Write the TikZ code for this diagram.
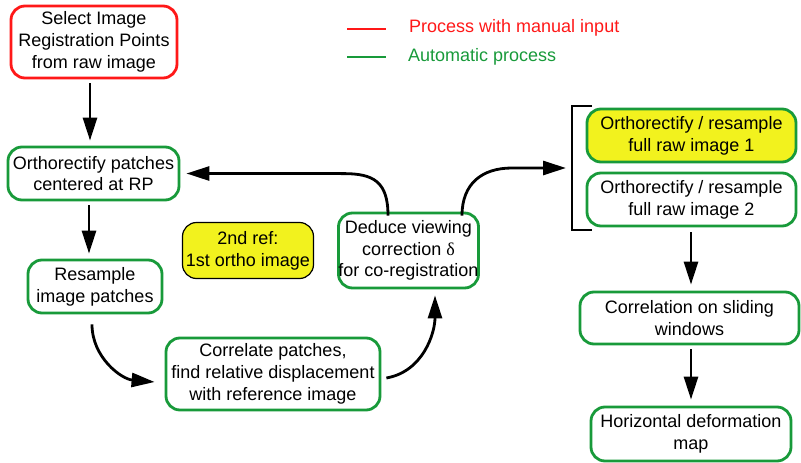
\documentclass[tikz,border=0pt]{standalone}
\usepackage{fontspec}
\setmainfont{Liberation Sans}
\newfontfamily\greekserif{Liberation Serif}
\usetikzlibrary{arrows.meta,calc}
\definecolor{manred}{RGB}{255,24,24}
\definecolor{autogreen}{RGB}{24,154,58}
\definecolor{hiyellow}{RGB}{242,242,30}
\tikzset{
  every node/.style={font=\fontsize{18}{21.8}\selectfont, align=center, inner sep=0pt},
  procbox/.style={draw=autogreen, line width=2.8pt, rounded corners=14pt, fill=white},
  manualbox/.style={procbox, draw=manred},
  notebox/.style={draw=black, line width=1.2pt, rounded corners=14pt, fill=hiyellow},
  arr/.style={-{Triangle[length=23pt,width=14pt]}, line width=2.8pt, black},
}
\begin{document}
\begin{tikzpicture}[x=1pt,y=1pt]
\useasboundingbox (0,0) rectangle (801,-463);

% process boxes
\node[manualbox, minimum width=166pt, minimum height=72pt] (s) at (94,-42)
  {Select Image\\Registration Points\\from raw image};
\node[procbox, minimum width=171pt, minimum height=53pt] (op) at (93.5,-173.5)
  {Orthorectify patches\\centered at RP};
\node[procbox, minimum width=134pt, minimum height=53pt] (rs) at (95,-286.5)
  {Resample\\image patches};
\node[notebox, minimum width=131pt, minimum height=56pt] (rf) at (248,-250.5)
  {2nd ref:\\1st ortho image};
\node[procbox, minimum width=214pt, minimum height=72pt] (cp) at (273,-374)
  {Correlate patches,\\find relative displacement\\with reference image};
\node[procbox, minimum width=135pt, minimum height=75pt] (dd) at (408.5,-250.5)
  {Deduce viewing\\correction {\greekserif δ}\\for co-registration};
\node[procbox, fill=hiyellow, minimum width=209pt, minimum height=53pt] (o1) at (691.5,-135.5)
  {Orthorectify / resample\\full raw image 1};
\node[procbox, minimum width=209pt, minimum height=53pt] (o2) at (691.5,-199.5)
  {Orthorectify / resample\\full raw image 2};
\node[procbox, minimum width=219pt, minimum height=52pt] (cw) at (689.5,-318)
  {Correlation on sliding\\windows};
\node[procbox, minimum width=200pt, minimum height=54pt] (hd) at (691,-434)
  {Horizontal deformation\\map};

% bracket grouping the two full-image steps
\coordinate (bt) at (592,-106);
\coordinate (bb) at (592,-230);
\coordinate (bx) at (572,-168);
\draw[line width=1.2pt] (bt) -- (bt -| bx) -- (bb -| bx) -- (bb);

% legend
\coordinate (lr) at (347,-29);
\coordinate (lg) at (347,-57);
\draw[manred, line width=2.8pt] (lr) -- ++(39,0);
\draw[autogreen, line width=2.8pt] (lg) -- ++(39,0);
\node[anchor=west, text=manred] (ltr) at (409,-28) {Process with manual input};
\node[anchor=west, text=autogreen] (ltg) at (408,-57) {Automatic process};

% connectors
\draw[arr] ($(s.south)+(-4,-4)$) -- ($(op.north)+(-3.5,5)$);
\draw[arr] ($(op.south)+(-4.5,-4)$) -- ($(rs.north)+(-6,5)$);
\draw[arr] ($(rs.south)+(-3,-10)$) to[out=-90,in=175] ($(cp.west)+(-10,-8)$);
\draw[arr] ($(cp.east)+(5,-4)$) to[out=10,in=-90] ($(dd.south)+(26.5,-6)$);
\draw[arr] ($(dd.north)+(-20.5,-4)$) .. controls +(0,34) and +(30,0) .. ($(dd.north)+(-65,38)$)
  -- ($(op.east)+(6,0)$);
\draw[arr] ($(dd.north)+(53.5,-4)$) .. controls +(0,32) and +(-30,0) .. ($(bx)+(-60,0)$)
  -- ($(bx)+(-6,0)$);
\draw[arr] ($(o2.south)+(-0.5,-5)$) -- ($(cw.north)+(1.5,6)$);
\draw[arr] ($(cw.south)+(1.5,-4)$) -- ($(hd.north)+(0,6)$);
\end{tikzpicture}
\end{document}
